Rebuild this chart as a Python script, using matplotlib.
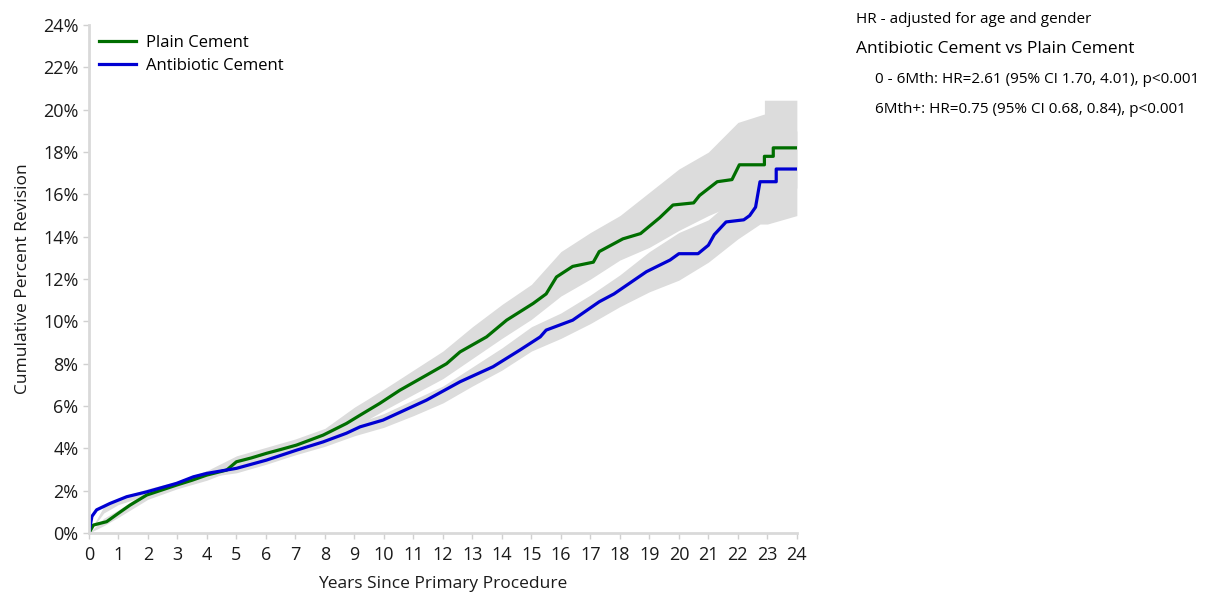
import matplotlib.pyplot as plt

plt.rcParams["font.family"] = ["Open Sans", "DejaVu Sans"]

# Kaplan-Meier estimates (years, cumulative % revision)
plain_t = [0, 0.15, 0.37, 0.6, 0.99, 1.39, 1.96, 2.5, 2.97, 3.5, 3.99, 4.67, 5.0, 5.5,
           6.02, 6.5, 7.04, 7.5, 7.94, 8.73, 9.19, 9.86, 10.54, 11.44, 12.12, 12.58,
           13.48, 14.16, 15.06, 15.5, 15.85, 16.4, 17.1, 17.3, 18.1, 18.7, 19.35, 19.8,
           20.5, 20.7, 21.3, 21.8, 22.05, 22.9, 22.9, 23.2, 23.2, 24]
plain_v = [0, 0.38, 0.46, 0.54, 0.93, 1.32, 1.8, 2.05, 2.27, 2.5, 2.74, 2.98, 3.37, 3.55,
           3.77, 3.95, 4.16, 4.4, 4.63, 5.18, 5.57, 6.13, 6.75, 7.46, 8.0, 8.56,
           9.27, 10.06, 10.85, 11.3, 12.1, 12.6, 12.8, 13.3, 13.9, 14.15, 14.9, 15.5,
           15.6, 15.95, 16.6, 16.7, 17.4, 17.4, 17.8, 17.8, 18.2, 18.2]

anti_t = [0, 0.1, 0.26, 0.71, 1.28, 1.96, 2.97, 3.54, 3.99, 5.0, 6.02, 7.04, 7.94, 8.73,
          9.19, 9.97, 11.44, 12.58, 13.7, 14.6, 15.3, 15.5, 16.4, 17.3, 17.8, 18.9,
          19.7, 20.0, 20.65, 21.0, 21.2, 21.6, 22.2, 22.4, 22.6, 22.75, 23.3, 23.3, 24]
anti_v = [0, 0.79, 1.1, 1.4, 1.72, 1.95, 2.35, 2.66, 2.82, 3.06, 3.45, 3.92, 4.31, 4.72,
          5.02, 5.34, 6.28, 7.15, 7.86, 8.64, 9.27, 9.59, 10.06, 10.93, 11.3, 12.35,
          12.9, 13.2, 13.2, 13.6, 14.1, 14.7, 14.8, 15.0, 15.4, 16.6, 16.6, 17.2, 17.2]

# 95% confidence bands
plain_ci_t = [0, 0.5, 1, 2, 3, 4, 5, 6, 7, 8, 9, 10, 11, 12, 13, 14, 15, 16, 17, 18,
              19, 20, 21, 22, 22.9, 22.9, 24]
plain_ci_lo = [0, 0.35, 0.75, 1.6, 2.1, 2.5, 3.05, 3.5, 3.9, 4.35, 5.0, 5.8, 6.55, 7.3,
               8.25, 9.2, 10.1, 11.2, 12.0, 12.9, 13.5, 14.3, 15.0, 15.6, 16.0, 16.3, 16.3]
plain_ci_hi = [0, 0.7, 1.1, 2.0, 2.45, 2.95, 3.65, 4.05, 4.45, 4.95, 5.95, 6.8, 7.7, 8.6,
               9.75, 10.8, 11.75, 13.3, 14.2, 15.0, 16.1, 17.2, 18.0, 19.4, 19.8, 20.45, 20.45]

anti_ci_t = [0, 0.5, 1, 2, 3, 4, 5, 6, 7, 8, 9, 10, 11, 12, 13, 14, 15, 16, 17, 18,
             19, 20, 21, 22, 22.75, 23, 24]
anti_ci_lo = [0, 0.95, 1.35, 1.8, 2.15, 2.65, 2.85, 3.25, 3.7, 4.1, 4.6, 5.0, 5.55, 6.15,
              6.95, 7.7, 8.6, 9.2, 9.9, 10.7, 11.4, 11.95, 12.8, 13.9, 14.6, 14.6, 15.0]
anti_ci_hi = [0, 1.25, 1.65, 2.1, 2.45, 2.95, 3.2, 3.65, 4.15, 4.55, 5.15, 5.65, 6.3, 6.95,
              7.85, 8.75, 9.75, 10.4, 11.25, 12.2, 13.3, 14.2, 14.8, 16.0, 18.2, 18.6, 19.0]

x_ticks = list(range(0, 25))
y_ticks = list(range(0, 25, 2))

hr_lines = [
    "0 - 6Mth: HR=2.61 (95% CI 1.70, 4.01), p<0.001",
    "6Mth+: HR=0.75 (95% CI 0.68, 0.84), p<0.001",
]

fig = plt.figure(figsize=(12.07, 5.97), dpi=100)
ax = fig.add_axes([0.0737, 0.107, 0.5865, 0.851])

band = "#dcdcdc"
ax.fill_between(plain_ci_t, plain_ci_lo, plain_ci_hi, color=band, lw=0)
ax.fill_between(anti_ci_t, anti_ci_lo, anti_ci_hi, color=band, lw=0)
ax.plot(plain_t, plain_v, color="#006e00", lw=2.3, label="Plain Cement")
ax.plot(anti_t, anti_v, color="#0000d2", lw=2.3, label="Antibiotic Cement")

ax.set_xlim(0, 24)
ax.set_ylim(0, 24)
ax.set_xticks(x_ticks)
ax.set_yticks(y_ticks)
ax.set_yticklabels([f"{v}%" for v in y_ticks])
ax.tick_params(labelsize=13, colors="#d0d0d0", labelcolor="#1a1a1a", length=4, width=1)
ax.tick_params(axis="x", pad=5)
for side in ("top", "right"):
    ax.spines[side].set_visible(False)
for side in ("left", "bottom"):
    ax.spines[side].set_color("#d9d9d9")
    ax.spines[side].set_linewidth(2)

ax.set_xlabel("Years Since Primary Procedure", fontsize=12.5, color="#1a1a1a", labelpad=9)
ax.set_ylabel("Cumulative Percent Revision", fontsize=12.5, color="#1a1a1a", labelpad=9)

ax.legend(loc="upper left", bbox_to_anchor=(0.0, 1.0), frameon=False, fontsize=12,
          handlelength=2.2, handletextpad=0.6, labelspacing=0.4, borderaxespad=0.1,
          borderpad=0.5)

fig.text(0.709, 0.968, "HR - adjusted for age and gender", fontsize=11, va="center")
fig.text(0.709, 0.918, "Antibiotic Cement vs Plain Cement", fontsize=12.5, va="center")
for i, line in enumerate(hr_lines):
    fig.text(0.725, 0.866 - i * 0.049, line, fontsize=11, va="center")

fig.savefig("out.png", dpi=100)
